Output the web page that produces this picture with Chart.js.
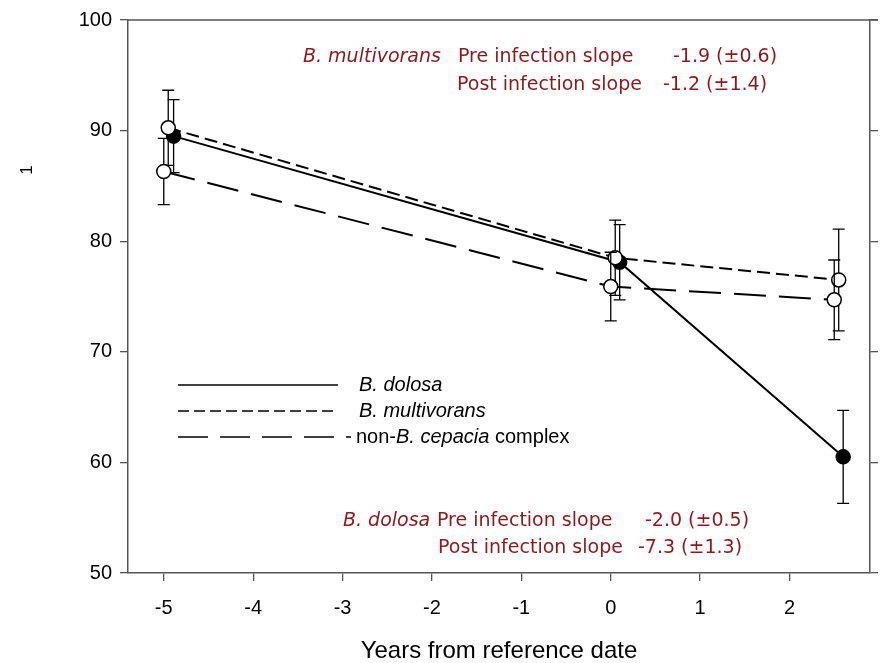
<!DOCTYPE html>
<html><head><meta charset="utf-8">
<script src="https://cdn.jsdelivr.net/npm/chart.js@4.4.1/dist/chart.umd.min.js"></script>
<style>html,body{margin:0;padding:0;background:#fff}#wrap{width:882px;height:663px}</style>
</head><body><div id="wrap"><canvas id="c" width="882" height="663"></canvas></div>
<script>
// ---- data ----
const xTicks = [-5, -4, -3, -2, -1, 0, 1, 2];
const yTicks = [50, 60, 70, 80, 90, 100];
const seriesNames = ['B. dolosa', 'B. multivorans', 'non-B. cepacia complex'];
const dolosaX = [-4.89, 0.10, 2.60];
const dolosaY = [89.5, 78.1, 60.5];
const dolosaErr = [3.3, 3.4, 4.2];
const multX = [-4.95, 0.05, 2.55];
const multY = [90.25, 78.5, 76.5];
const multErr = [3.4, 3.4, 4.6];
const nonX = [-5.0, 0.0, 2.5];
const nonY = [86.3, 75.9, 74.7];
const nonErr = [3.0, 3.1, 3.6];
const yTitle = '1';
const xTitle = 'Years from reference date';
const multAnno = [['B. multivorans', 'Pre infection slope', '-1.9 (\u00B10.6)'], ['', 'Post infection slope', '-1.2 (\u00B11.4)']];
const dolosaAnno = [['B. dolosa', 'Pre infection slope', '-2.0 (\u00B10.5)'], ['', 'Post infection slope', '-7.3 (\u00B11.3)']];

const ARIAL = '"Liberation Sans", Arial, sans-serif';
const VERD = '"DejaVu Sans", Verdana, sans-serif';
const ANNO_COLOR = '#8b1a1a';
const AXIS_COLOR = '#555';

function pts(xs, ys) { return xs.map((x, i) => ({x: x, y: ys[i]})); }

const errorBars = {
  id: 'errorBars',
  beforeDatasetDraw(chart, args) {
    const ds = chart.data.datasets[args.index];
    const meta = args.meta;
    const y = chart.scales.y;
    const ctx = chart.ctx;
    ctx.save();
    ctx.strokeStyle = '#000';
    ctx.lineWidth = 1.3;
    ctx.setLineDash([]);
    meta.data.forEach((el, i) => {
      const v = ds.data[i].y, e = ds.err[i];
      const px = el.x;
      const top = y.getPixelForValue(v + e), bot = y.getPixelForValue(v - e);
      ctx.beginPath();
      ctx.moveTo(px, top); ctx.lineTo(px, bot);
      ctx.moveTo(px - 6, top); ctx.lineTo(px + 6, top);
      ctx.moveTo(px - 6, bot); ctx.lineTo(px + 6, bot);
      ctx.stroke();
    });
    ctx.restore();
  }
};

const extras = {
  id: 'extras',
  afterDraw(chart) {
    const ctx = chart.ctx, a = chart.chartArea;
    ctx.save();
    // top frame line
    ctx.strokeStyle = AXIS_COLOR; ctx.lineWidth = 1.5;
    ctx.beginPath(); ctx.moveTo(a.left, a.top); ctx.lineTo(a.right + 8, a.top); ctx.stroke();
    // y title
    ctx.save();
    ctx.translate(27, 170); ctx.rotate(-Math.PI / 2);
    ctx.fillStyle = '#000'; ctx.font = '17px ' + ARIAL;
    ctx.textAlign = 'center'; ctx.textBaseline = 'middle';
    ctx.fillText(yTitle, 0, 0);
    ctx.restore();
    // legend
    const rows = [385, 411, 437];
    const legX = [[178, 338], [178, 338], [178, 351]];
    const textX = [359, 359, 356];
    const legDash = [[], [11, 5], [30, 12]];
    chart.data.datasets.forEach((ds, i) => {
      ctx.strokeStyle = '#000'; ctx.lineWidth = 1.5;
      ctx.setLineDash(legDash[i]);
      ctx.beginPath(); ctx.moveTo(legX[i][0], rows[i]); ctx.lineTo(legX[i][1], rows[i]); ctx.stroke();
    });
    ctx.setLineDash([]);
    ctx.fillStyle = '#000'; ctx.textBaseline = 'middle'; ctx.textAlign = 'left';
    ctx.font = 'italic 20px ' + ARIAL;
    ctx.fillText(seriesNames[0], textX[0], rows[0]);
    ctx.fillText(seriesNames[1], textX[1], rows[1]);
    // mixed style third label
    let tx = textX[2];
    const parts = [['non-', ''], ['B. cepacia', 'italic '], [' complex', '']];
    parts.forEach(p => {
      ctx.font = p[1] + '20px ' + ARIAL;
      ctx.fillText(p[0], tx, rows[2]);
      tx += ctx.measureText(p[0]).width;
    });
    // annotations
    ctx.fillStyle = ANNO_COLOR;
    const drawAnno = (lines, ys, xs) => {
      lines.forEach((ln, r) => {
        ctx.font = 'italic 19px ' + VERD;
        if (ln[0]) ctx.fillText(ln[0], xs[r][0], ys[r]);
        ctx.font = '19px ' + VERD;
        ctx.fillText(ln[1], xs[r][1], ys[r]);
        ctx.fillText(ln[2], xs[r][2], ys[r]);
      });
    };
    drawAnno(multAnno, [57, 85], [[303, 458, 673], [0, 457, 663]]);
    drawAnno(dolosaAnno, [521, 548], [[343, 437, 645], [0, 438, 638]]);
    ctx.restore();
  }
};

const commonSet = {showLine: true, borderColor: '#000', borderWidth: 2, pointRadius: 7,
  pointBorderColor: '#000', pointBorderWidth: 1.5, pointHoverRadius: 7};

new Chart(document.getElementById('c'), {
  type: 'scatter',
  data: {datasets: [
    Object.assign({}, commonSet, {label: seriesNames[0], data: pts(dolosaX, dolosaY), err: dolosaErr,
      pointBackgroundColor: '#000', borderDash: [], order: 3}),
    Object.assign({}, commonSet, {label: seriesNames[1], data: pts(multX, multY), err: multErr,
      pointBackgroundColor: '#fff', borderDash: [13, 6], order: 2}),
    Object.assign({}, commonSet, {label: seriesNames[2], data: pts(nonX, nonY), err: nonErr,
      pointBackgroundColor: '#fff', borderDash: [32, 13], order: 1})
  ]},
  options: {
    responsive: false, animation: false,
    layout: {padding: {left: 0, right: 0, top: 19, bottom: 0}},
    plugins: {legend: {display: false}, tooltip: {enabled: false}},
    scales: {
      x: {type: 'linear', min: -5.4, max: 2.9,
        afterBuildTicks: s => { s.ticks = xTicks.map(v => ({value: v})); },
        ticks: {font: {family: ARIAL, size: 20}, color: '#000', padding: 15, callback: v => String(v)},
        grid: {drawOnChartArea: false, tickLength: 8, color: AXIS_COLOR, lineWidth: 1.3},
        border: {color: AXIS_COLOR, width: 1.5},
        title: {display: true, text: xTitle, color: '#000', font: {family: ARIAL, size: 24, lineHeight: 1}, padding: 0},
        afterFit: s => { s.height = 90; }
      },
      y: {type: 'linear', position: 'left', min: 50, max: 100,
        afterBuildTicks: s => { s.ticks = yTicks.map(v => ({value: v})); },
        ticks: {font: {family: ARIAL, size: 20}, color: '#000', padding: 8, callback: v => String(v)},
        grid: {drawOnChartArea: false, tickLength: 8, color: AXIS_COLOR, lineWidth: 1.3},
        border: {color: AXIS_COLOR, width: 1.5},
        afterFit: s => { s.width = 128; }
      },
      y2: {type: 'linear', position: 'right', min: 50, max: 100,
        afterBuildTicks: s => { s.ticks = yTicks.map(v => ({value: v})); },
        ticks: {display: false},
        grid: {drawOnChartArea: false, tickLength: 8, color: AXIS_COLOR, lineWidth: 1.3},
        border: {color: AXIS_COLOR, width: 1.5},
        afterFit: s => { s.width = 12; }
      }
    }
  },
  plugins: [errorBars, extras]
});
</script></body></html>
